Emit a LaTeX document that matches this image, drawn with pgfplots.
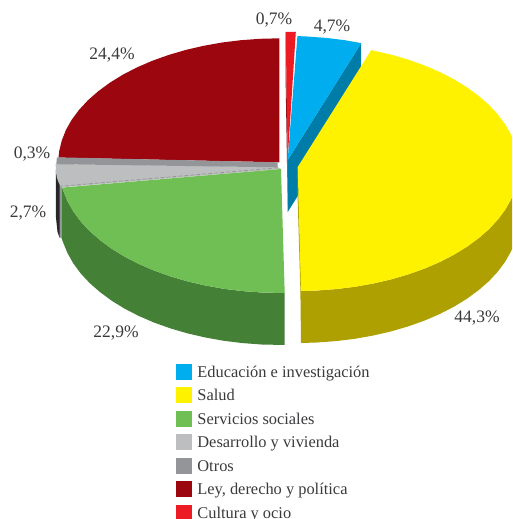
\documentclass[border=0pt]{standalone}
\usepackage{fontspec}
\setmainfont{Liberation Serif}
\usepackage{pgfplots}
\pgfplotsset{compat=1.18}

\definecolor{cultura}{HTML}{ED1C24}
\definecolor{culturaWall}{HTML}{8E1016}
\definecolor{educacion}{HTML}{00AEEF}
\definecolor{educacionWall}{HTML}{007CA8}
\definecolor{salud}{HTML}{FFF200}
\definecolor{saludWall}{HTML}{AEA000}
\definecolor{servicios}{HTML}{70BF54}
\definecolor{serviciosWall}{HTML}{448035}
\definecolor{desarrollo}{HTML}{BCBEC0}
\definecolor{otros}{HTML}{939598}
\definecolor{ley}{HTML}{9B060F}
\definecolor{rotulo}{HTML}{3A3A3C}

\begin{document}
\begin{tikzpicture}[x=1pt,y=1pt]
\path[use as bounding box,clip] (0,0) rectangle (512,519);
\begin{axis}[
  at={(0,0)},anchor=south west,
  scale only axis,width=512pt,height=519pt,
  xmin=0,xmax=512,ymin=0,ymax=519,y dir=reverse,
  hide axis,clip=false,
  legend image code/.code={\path[#1] (0pt,-5.5pt) rectangle (15pt,9.5pt);},
  legend cell align=left,
  legend style={
    at={(axis cs:176,363.5)},anchor=north west,draw=none,fill=none,
    inner sep=0pt,outer sep=0pt,row sep=5.8pt,
    font=\fontsize{16.4}{18}\selectfont\color{rotulo},
    nodes={inner sep=0pt,text height=12pt,text depth=4pt},
    /tikz/every odd column/.append style={column sep=6pt},
  },
  every axis plot/.append style={forget plot},
]
\addlegendimage{fill=educacion,draw=educacion}
\addlegendentry{Educación e investigación}
\addlegendimage{fill=salud,draw=salud}
\addlegendentry{Salud}
\addlegendimage{fill=servicios,draw=servicios}
\addlegendentry{Servicios sociales}
\addlegendimage{fill=desarrollo,draw=desarrollo}
\addlegendentry{Desarrollo y vivienda}
\addlegendimage{fill=otros,draw=otros}
\addlegendentry{Otros}
\addlegendimage{fill=ley,draw=ley}
\addlegendentry{Ley, derecho y política}
\addlegendimage{fill=cultura,draw=cultura}
\addlegendentry{Cultura y ocio}

% Ley, derecho y política: 24,4 %
\addplot[fill=ley,draw=none] coordinates {
 (279.3,162.3) (58.5,157.6) (59.1,151.5) (61.7,140.8) (65.8,130.2) (71.6,119.9)
 (79,109.9) (87.9,100.3) (98.3,91.2) (110,82.6) (123,74.6) (137.2,67.3)
 (152.5,60.7) (168.8,54.9) (185.9,49.9) (203.7,45.8) (222.1,42.5) (240.9,40.2)
 (260,38.8) (279.3,38.3)} --cycle;

% Cultura y ocio: 0,7 %
\addplot[fill=culturaWall,draw=none] coordinates {
 (285.7,32) (287.7,159) (287.7,205) (285.7,85)} --cycle;
\addplot[fill=cultura,draw=none] coordinates {
 (285.7,32) (295.8,32) (287.7,159)} --cycle;

% Educación e investigación: 4,7 %
\addplot[fill=educacionWall,draw=none] coordinates {
 (287.7,160) (361.2,43.1) (361.2,95) (287.7,212)} --cycle;
\addplot[fill=educacion,draw=none] coordinates {
 (287.7,160) (297.4,36.1) (307,36.5) (326.1,37.9) (344.9,40.2) (361.2,43.1)} --cycle;

% Salud: 44,3 %
\addplot[fill=saludWall,draw=none] coordinates {
 (297.7,167) (297.7,200) (300.4,291) (301,343) (301.5,291)} --cycle;
\addplot[fill=saludWall,draw=none] coordinates {
 (518.7,167) (517.9,177.8) (515.3,188.5) (511.2,199.1) (505.4,209.4) (498,219.4)
 (489.1,229) (478.7,238.1) (467,246.7) (454,254.7) (439.8,262) (424.5,268.6)
 (408.2,274.4) (391.1,279.4) (373.3,283.5) (354.9,286.8) (336.1,289.1) (317,290.5)
 (301,291) (301,343)
 (317,342.5) (336.1,341.1) (354.9,338.8) (373.3,335.5) (391.1,331.4) (408.2,326.4)
 (424.5,320.6) (439.8,314) (454,306.7) (467,298.7) (478.7,290.1) (489.1,281)
 (498,271.4) (505.4,261.4) (511.2,251.1) (515.3,240.5) (517.9,229.8) (518.7,219)} --cycle;
\addplot[fill=salud,draw=none] coordinates {
 (297.7,167) (371.2,50.1) (391.1,54.6) (408.2,59.6) (424.5,65.4) (439.8,72)
 (454,79.3) (467,87.3) (478.7,95.9) (489.1,105) (498,114.6) (505.4,124.6)
 (511.2,134.9) (515.3,145.5) (517.9,156.2) (518.7,167) (517.9,177.8) (515.3,188.5)
 (511.2,199.1) (505.4,209.4) (498,219.4) (489.1,229) (478.7,238.1) (467,246.7)
 (454,254.7) (439.8,262) (424.5,268.6) (408.2,274.4) (391.1,279.4) (373.3,283.5)
 (354.9,286.8) (336.1,289.1) (317,290.5) (301,291)} --cycle;

% Desarrollo y vivienda: 2,7 %
\addplot[fill=black!85,draw=none] coordinates {
 (55.8,170) (55.8,216) (57.5,232) (59.8,238) (59.8,182)} --cycle;
\addplot[fill=otros,draw=none] coordinates {
 (59.5,184) (59.5,237) (62.2,239) (62.2,188)} --cycle;
\addplot[fill=desarrollo,draw=none] coordinates {
 (277.3,167) (55.7,164) (55.9,172) (57,178) (58.8,183) (61.5,187.4) (281,169)} --cycle;

% Otros: 0,3 %
\addplot[fill=otros,draw=none] coordinates {
 (277.6,162.3) (277.6,167.3) (56.3,164.2) (56.9,157.3)} --cycle;

% Servicios sociales: 22,9 %
\addplot[fill=serviciosWall,draw=none] coordinates {
 (284.7,293) (261.7,292.5) (242.6,291.1) (223.8,288.8) (205.4,285.5) (187.6,281.4)
 (170.5,276.4) (154.2,270.6) (138.9,264) (124.7,256.7) (111.7,248.7) (100,240.1)
 (89.6,231) (80.7,221.4) (73.3,211.4) (67.5,201.1) (62,187.6) (62,239.6)
 (67.5,253.1) (73.3,263.4) (80.7,273.4) (89.6,283) (100,292.1) (111.7,300.7)
 (124.7,308.7) (138.9,316) (154.2,322.6) (170.5,328.4) (187.6,333.4) (205.4,337.5)
 (223.8,340.8) (242.6,343.1) (261.7,344.5) (284.7,345)} --cycle;
\addplot[fill=servicios,draw=none] coordinates {
 (281,169) (62,187.6) (67.5,201.1) (73.3,211.4) (80.7,221.4) (89.6,231) (100,240.1)
 (111.7,248.7) (124.7,256.7) (138.9,264) (154.2,270.6) (170.5,276.4) (187.6,281.4)
 (205.4,285.5) (223.8,288.8) (242.6,291.1) (261.7,292.5) (284.7,293)} --cycle;

% Separador entre Desarrollo y Servicios
\addplot[draw=otros,line width=.7pt,dash pattern=on 4pt off 2pt] coordinates {
 (278,167.8) (61,186.2)};

% Porcentajes
\begin{scope}[every node/.style={font=\fontsize{17.5}{20}\selectfont,text=rotulo,inner sep=0pt}]
\node at (axis cs:274,20) {0,7\%};
\node at (axis cs:332,27) {4,7\%};
\node at (axis cs:112,55) {24,4\%};
\node at (axis cs:32,154) {0,3\%};
\node at (axis cs:28,213) {2,7\%};
\node at (axis cs:116,333) {22,9\%};
\node at (axis cs:477,318) {44,3\%};
\end{scope}

% Trazos inferiores del título, cortado por el borde superior
\begin{scope}[every node/.style={font=\bfseries\fontsize{26}{30}\selectfont,text=black!85,inner sep=0pt,anchor=base}]
\node at (axis cs:307,-5) {g};
\node at (axis cs:419,-5) {,};
\node at (axis cs:436,-5) {p};
\end{scope}
\end{axis}
\end{tikzpicture}
\end{document}
